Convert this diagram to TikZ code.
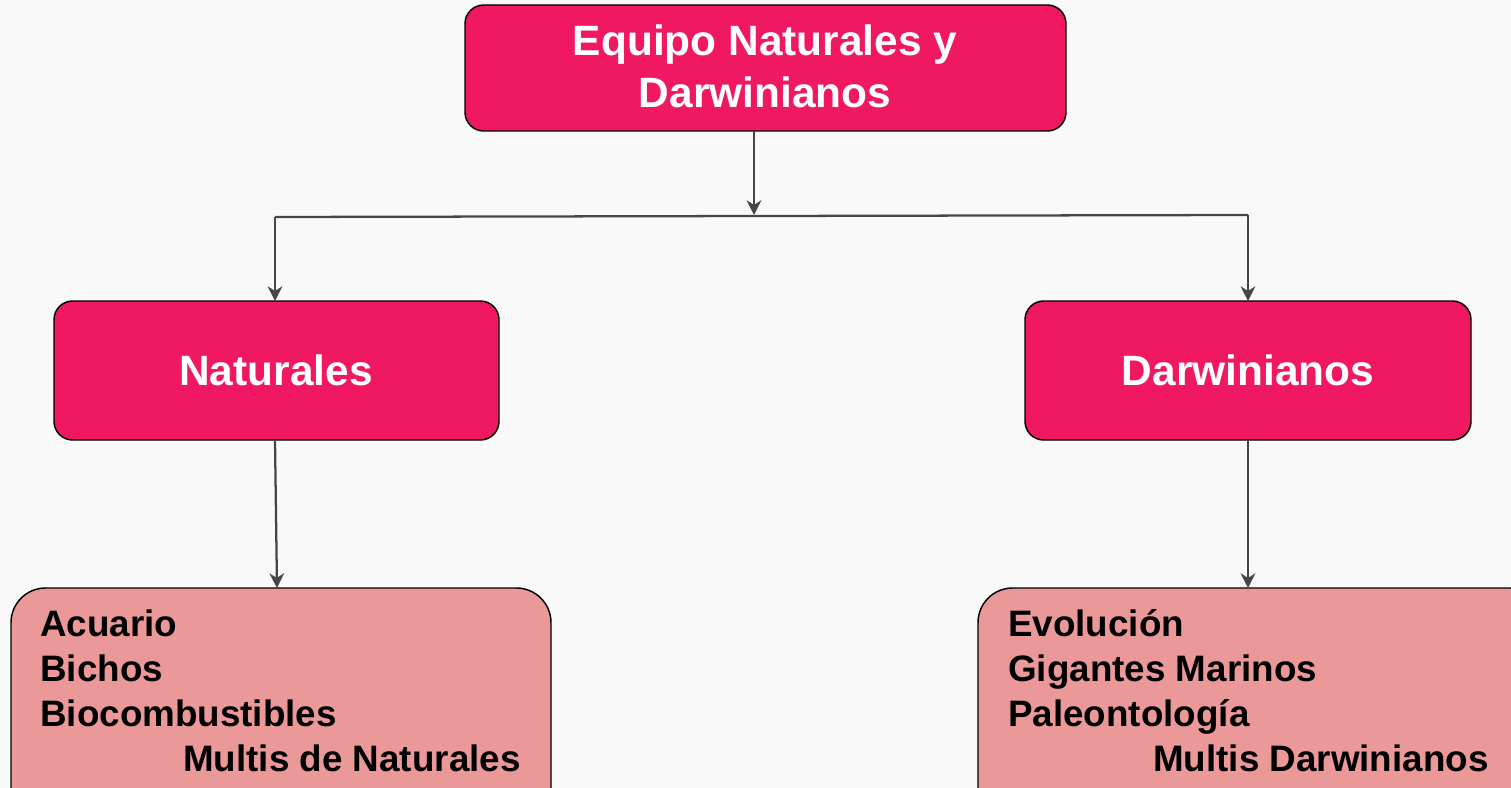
\documentclass[tikz,border=0pt]{standalone}
\usepackage{fontspec}
\setmainfont{Liberation Sans}
\usetikzlibrary{arrows.meta}
\definecolor{bg}{HTML}{F9F9F9}
\definecolor{pinkbox}{HTML}{F01763}
\definecolor{salmon}{HTML}{EA9898}
\definecolor{linegray}{HTML}{464646}
\tikzset{
  mainbox/.style={draw=black, line width=1.1pt, fill=pinkbox, rounded corners=14pt},
  leafbox/.style={draw=black, line width=1.1pt, fill=salmon, rounded corners=26pt},
  wtitle/.style={text=white, font=\fontsize{31.8}{39}\selectfont\bfseries, align=center, inner sep=0pt},
  leaftext/.style={text=black, font=\fontsize{27.6}{33}\selectfont\bfseries, anchor=base west, inner sep=0pt},
  conn/.style={draw=linegray, line width=1.7pt},
  arr/.style={conn, -{Stealth[length=11pt, width=11pt, inset=3.5pt]}}
}
\begin{document}
\begin{tikzpicture}[x=0.75pt, y=-0.75pt]
\fill[bg] (0,0) rectangle (1511,788);
\useasboundingbox (0,0) rectangle (1511,788);

% boxes
\draw[mainbox] (465,5) rectangle (1066,131);
\coordinate (topB) at (754,131);
\node[wtitle, anchor=base] (t1) at (765,56) {Equipo Naturales y};
\node[wtitle, anchor=base] (t2) at (765,108) {Darwinianos};

\draw[mainbox] (54,301) rectangle (499,440);
\node[wtitle, anchor=base] (nat) at (276,385) {Naturales};
\draw[mainbox] (1025,301) rectangle (1471,440);
\node[wtitle, anchor=base] (dar) at (1248,385) {Darwinianos};

\begin{scope}
\clip (0,0) rectangle (1511,788);
\draw[leafbox] (11,588) rectangle (551,830);
\draw[leafbox] (978,588) rectangle (1545,830);
\end{scope}

\node[leaftext] (a1) at (40,636) {Acuario};
\node[leaftext] (a2) at (40,681) {Bichos};
\node[leaftext] (a3) at (40,726) {Biocombustibles};
\node[leaftext] (a4) at (183,771) {Multis de Naturales};

\node[leaftext] (b1) at (1008,636) {Evolución};
\node[leaftext] (b2) at (1008,681) {Gigantes Marinos};
\node[leaftext] (b3) at (1008,726) {Paleontología};
\node[leaftext] (b4) at (1153,771) {Multis Darwinianos};

% connector coordinates
\coordinate (mid) at (754,215);
\coordinate (hl) at (275,217);
\coordinate (hr) at (1248,215);
\coordinate (natT) at (275,301);
\coordinate (darT) at (1248,301);
\coordinate (natB) at (275,440);
\coordinate (darB) at (1248,440);
\coordinate (leafL) at (277,588);
\coordinate (leafR) at (1248,588);

\draw[arr] (topB) -- (mid);
\draw[conn] (hl) -- (hr);
\draw[arr] (hl) -- (natT);
\draw[arr] (hr) -- (darT);
\draw[arr] (natB) -- (leafL);
\draw[arr] (darB) -- (leafR);
\end{tikzpicture}
\end{document}
